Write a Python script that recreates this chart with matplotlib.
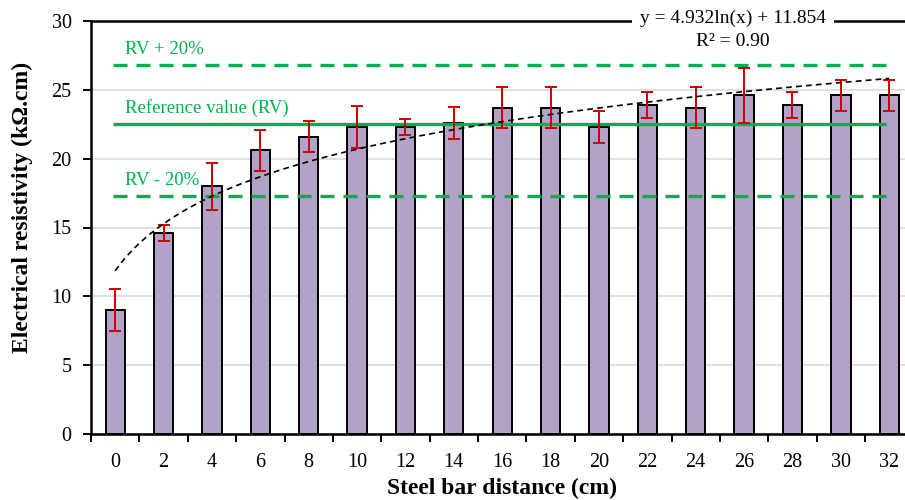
import matplotlib
matplotlib.use("Agg")
import matplotlib.pyplot as plt
import numpy as np

# ---- data ----
distances = ["0", "2", "4", "6", "8", "10", "12", "14", "16", "18", "20", "22", "24", "26", "28", "30", "32"]
resistivity = [9.0, 14.6, 18.0, 20.6, 21.6, 22.3, 22.3, 22.6, 23.7, 23.7, 22.3, 23.9, 23.7, 24.6, 23.9, 24.6, 24.6]
errors = [1.5, 0.6, 1.7, 1.5, 1.15, 1.5, 0.55, 1.15, 1.5, 1.5, 1.15, 0.95, 1.5, 2.0, 0.95, 1.15, 1.15]
ref_value = 22.5
ref_plus = 26.8
ref_minus = 17.3
trend_a = 4.932
trend_b = 11.854
trend_r2 = 0.90
y_ticks = [0, 5, 10, 15, 20, 25, 30]

plt.rcParams['font.family'] = ['Liberation Serif', 'DejaVu Serif']
plt.rcParams['mathtext.fontset'] = 'stix'

fig = plt.figure(figsize=(9.05, 5.0), dpi=100)
ax = fig.add_axes([91 / 905, 1 - 434 / 500, (913.4 - 91) / 905, (434 - 21) / 500])

x = np.arange(len(distances))
green = "#00B050"

ax.bar(x, resistivity, width=0.40, color="#B2A2C7", edgecolor="black", linewidth=1.4, zorder=3)
ax.errorbar(x, resistivity, yerr=errors, fmt="none", ecolor="#CC0000", elinewidth=1.4,
            capsize=4, capthick=1.4, zorder=5)

# reference lines
ax.hlines(ref_value, -0.05, 15.93, color=green, linewidth=2.4, zorder=4)
ax.hlines([ref_plus, ref_minus], -0.05, 15.93, color=green, linewidth=2.4,
          linestyles=(0, (4.2, 2.7)), zorder=4)
ax.text(0.2, ref_plus + 0.5, "RV + 20%", color=green, fontsize=13.5, ha="left", va="bottom", zorder=6)
ax.text(0.2, ref_value + 0.5, "Reference value (RV)", color=green, fontsize=13.5, ha="left", va="bottom", zorder=6)
ax.text(0.2, ref_minus + 0.5, "RV - 20%", color=green, fontsize=13.5, ha="left", va="bottom", zorder=6)

# logarithmic trend line (from the equation shown on the chart)
xt = np.linspace(1, len(distances), 200)
ax.plot(xt - 1, trend_a * np.log(xt) + trend_b, color="black", linewidth=1.2,
        linestyle=(0, (3.5, 2.5)), zorder=6)

ax.set_xlim(-0.5, len(distances) - 0.5)
ax.set_ylim(0, 30)
ax.set_yticks(y_ticks)
ax.set_xticks(x)
ax.set_xticklabels(distances)
ax.set_xticks(np.arange(-0.5, len(distances), 1.0), minor=True)
ax.tick_params(axis="x", which="major", length=0, pad=14, labelsize=14.5)
ax.tick_params(axis="x", which="minor", length=6, width=1.4, direction="out")
ax.tick_params(axis="y", length=6, width=1.4, direction="out", pad=8, labelsize=14.5)
ax.yaxis.grid(True, color="#D9D9D9", linewidth=1.2, zorder=0)
ax.set_axisbelow(True)
for s in ax.spines.values():
    s.set_linewidth(1.8)
    s.set_color("black")

fig.text(0.025, 1 - 207 / 500, "Electrical resistivity (k\u03a9.cm)", rotation=90, fontsize=17,
         fontweight="bold", ha="center", va="center")
fig.text(502 / 905, 1 - 488 / 500, "Steel bar distance (cm)", fontsize=17, fontweight="bold",
         ha="center", va="center")

fig.text(733 / 905, 1 - 18 / 500, f"y = {trend_a:.3f}ln(x) + {trend_b:.3f}", fontsize=14,
         ha="center", va="center", bbox=dict(facecolor="white", edgecolor="none", pad=6))
fig.text(733 / 905, 1 - 42 / 500, f"R\u00b2 = {trend_r2:.2f}", fontsize=14,
         ha="center", va="center")

fig.savefig("out.png", dpi=100)
